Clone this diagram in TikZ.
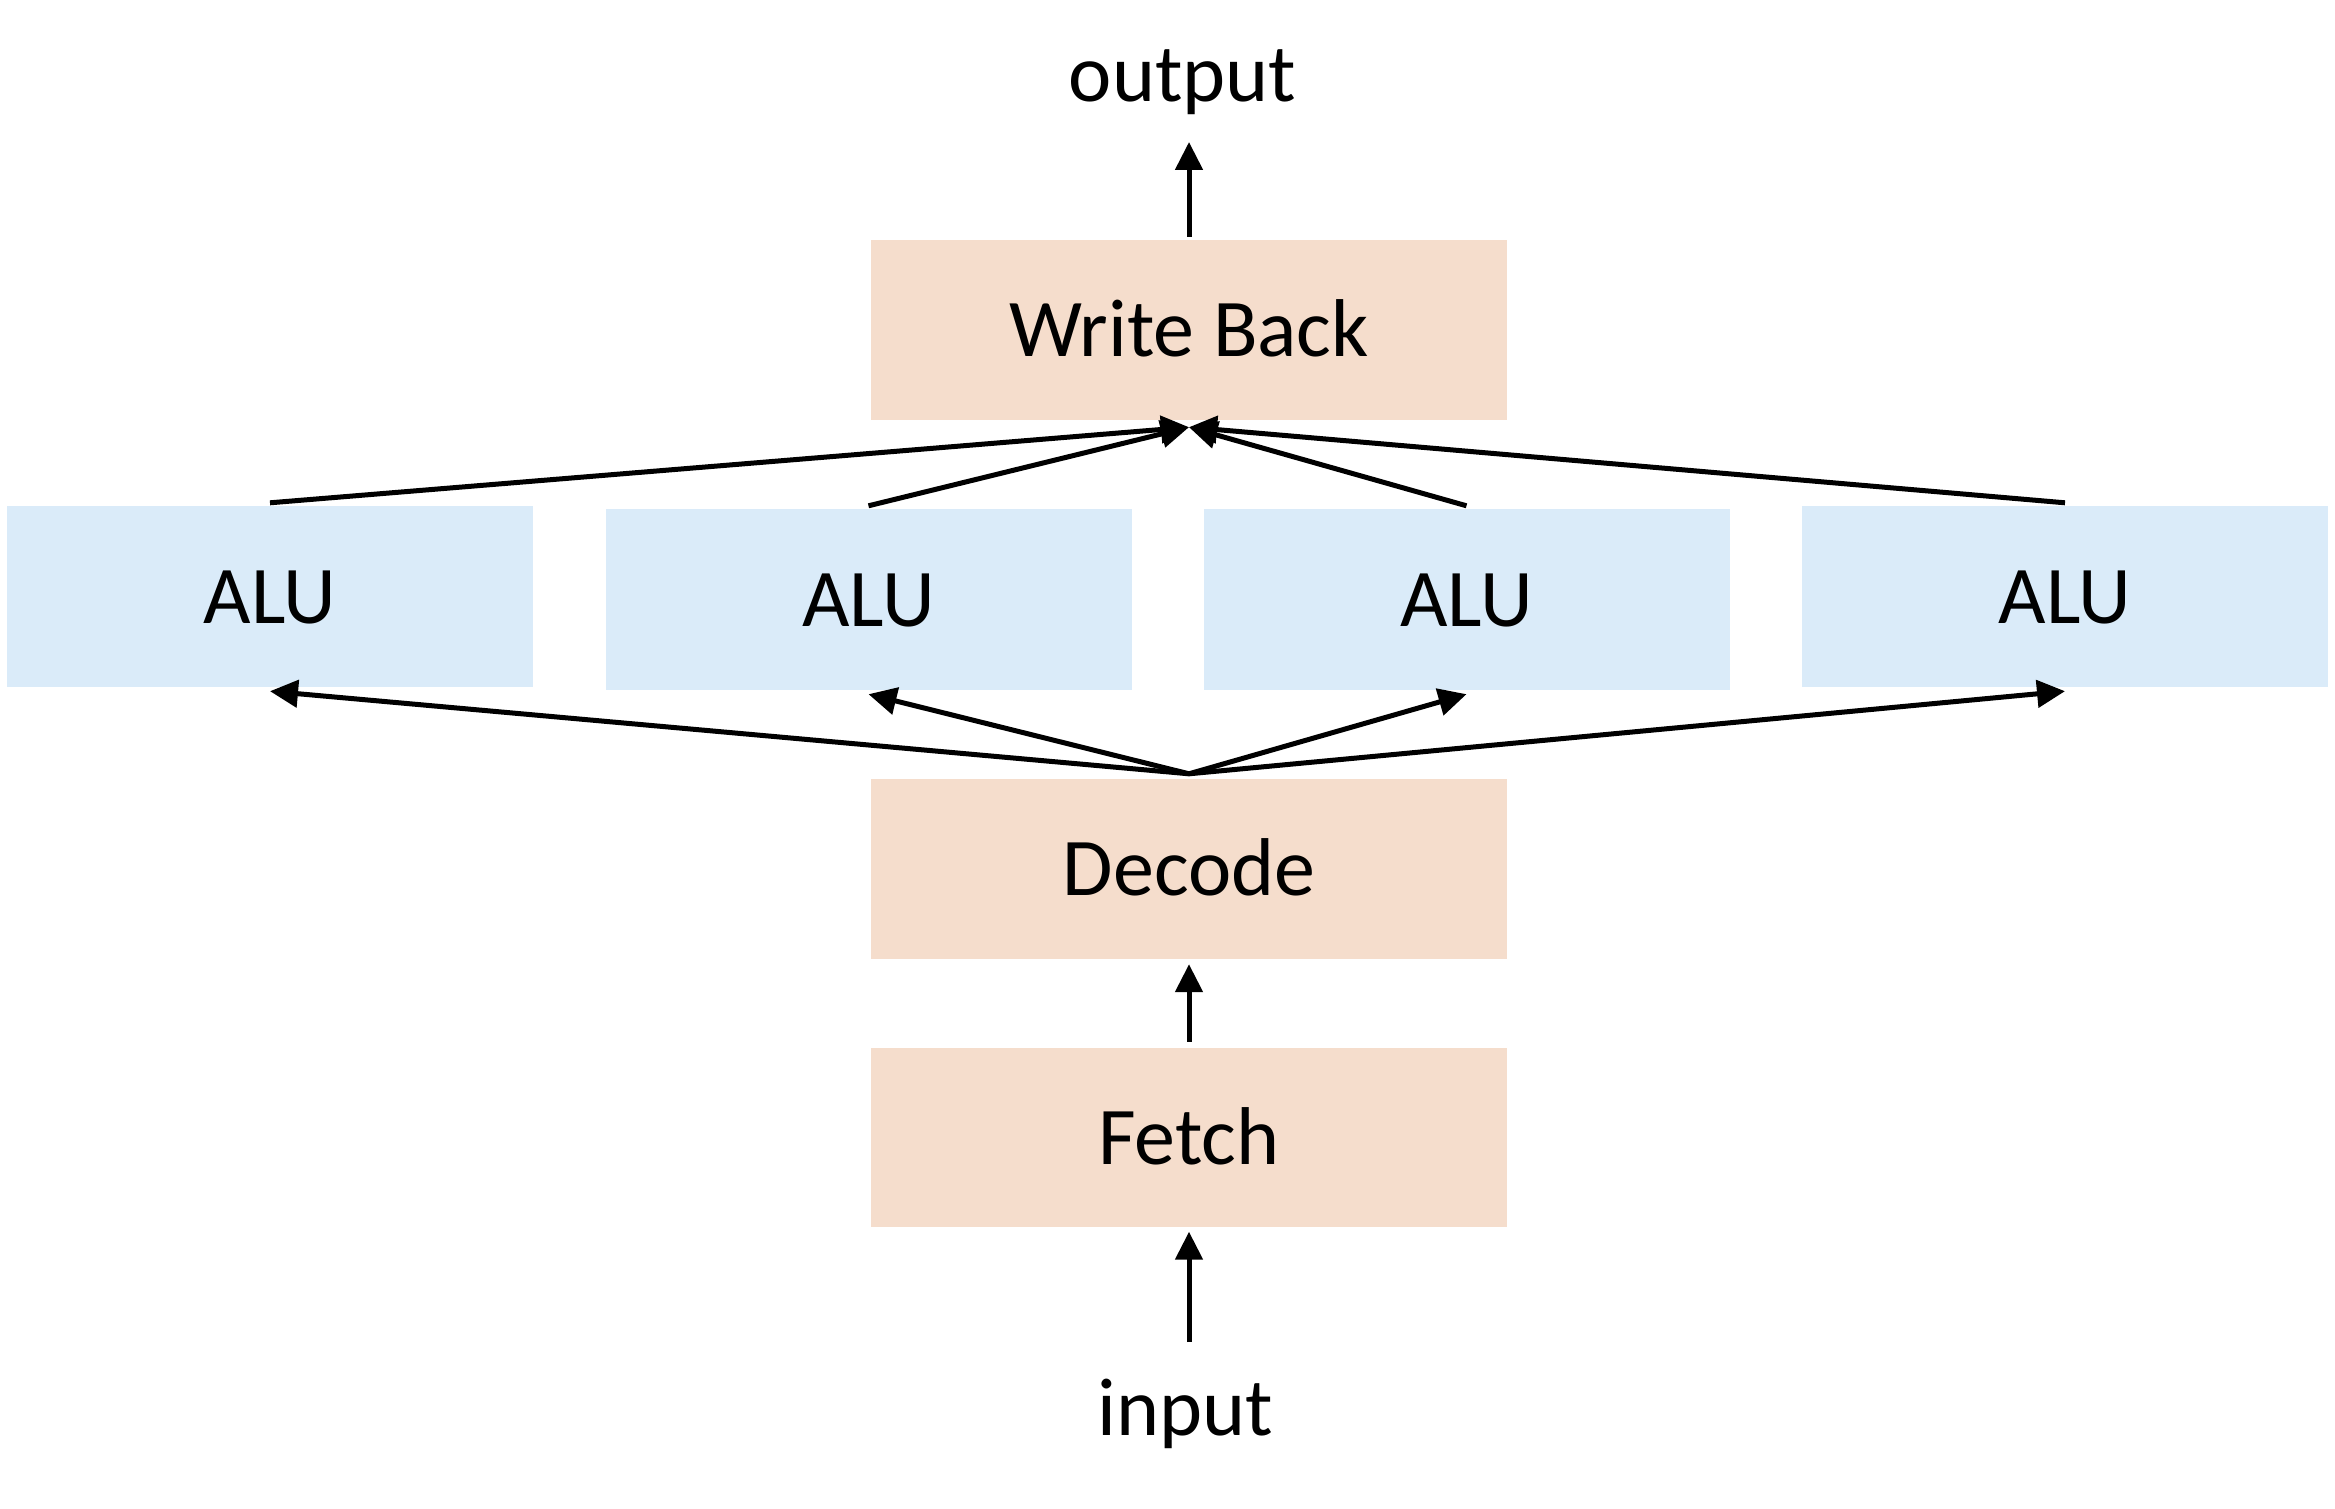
\documentclass[tikz,border=0pt]{standalone}
\usepackage{fontspec}
\setmainfont{Carlito}
\usetikzlibrary{arrows.meta,calc}
\definecolor{peach}{HTML}{F5DDCC}
\definecolor{lightblue}{HTML}{DAEBF9}
\tikzset{
  stagebox/.style={fill=peach, draw=none, inner sep=0pt, minimum width=636pt, minimum height=180pt, text height=53pt, text depth=0pt, font=\fontsize{82}{98}\selectfont},
  alubox/.style={fill=lightblue, draw=none, inner sep=0pt, minimum width=526pt, minimum height=181pt, text height=53pt, text depth=0pt, font=\fontsize{82}{98}\selectfont},
  label/.style={inner sep=0pt, anchor=base, font=\fontsize{82}{98}\selectfont},
  conn/.style={line width=5pt, -{Triangle[length=28pt,width=27pt]}}
}
\begin{document}
\begin{tikzpicture}[x=1pt,y=-1pt]
\useasboundingbox (0,0) rectangle (2335,1509);
% boxes
\node[stagebox] (wb) at (1189,330) {Write Back};
\node[alubox] (alu1) at (270,596.5) {ALU};
\node[alubox] (alu2) at (868.5,599.5) {ALU};
\node[alubox] (alu3) at (1466.5,599.5) {ALU};
\node[alubox] (alu4) at (2065,596.5) {ALU};
\node[stagebox] (dec) at (1189,869) {Decode};
\node[stagebox, minimum height=179pt] (fet) at (1189,1137.5) {Fetch};
% texts
\node[label] (out) at (1182.5,102) {output};
\node[label] (in) at (1185.5,1435) {input};
% coordinates
\coordinate (outtip) at (1189,142);
\coordinate (inbase) at (1189,1342);
\coordinate (wbin) at ($(wb.south)+(0,7)$);
\coordinate (decout) at ($(dec.north)+(0,-5)$);
% vertical arrows
\draw[conn] ($(wb.north)+(0,-3)$) -- (outtip);
\draw[conn] ($(fet.north)+(0,-6)$) -- ($(dec.south)+(0,5)$);
\draw[conn] (inbase) -- ($(fet.south)+(0,4.5)$);
% ALU -> Write Back
\foreach \a in {alu1,alu2,alu3,alu4}{
  \draw[conn] ($(\a.north)+(0,-3)$) -- (wbin);
}
% Decode -> ALU
\foreach \a in {alu1,alu2,alu3,alu4}{
  \draw[conn] (decout) -- ($(\a.south)+(0,4)$);
}
\end{tikzpicture}
\end{document}
